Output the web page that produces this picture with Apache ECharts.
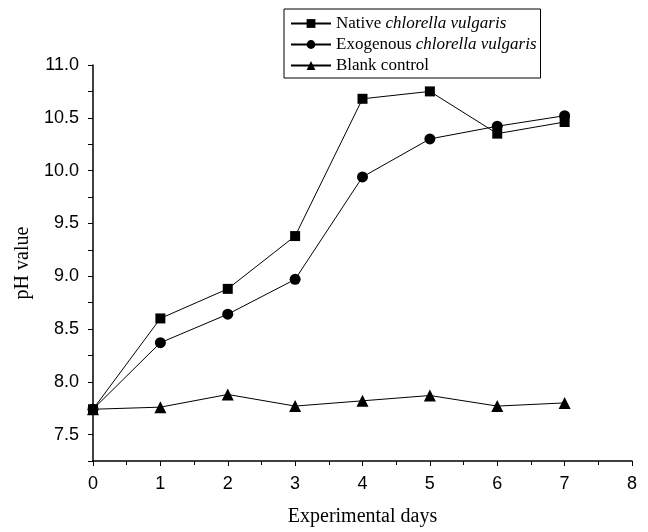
<!DOCTYPE html>
<html>
<head>
<meta charset="utf-8">
<script src="https://cdn.jsdelivr.net/npm/echarts@6/dist/echarts.min.js"></script>
<style>
  html, body { margin: 0; padding: 0; background: #fff; }
  #main { width: 648px; height: 532px; }
</style>
</head>
<body>
<div id="main"></div>
<script>
// pH value over experimental days
var days = [0, 1, 2, 3, 4, 5, 6, 7];
var nativeVals = [7.74, 8.60, 8.88, 9.38, 10.68, 10.75, 10.35, 10.46];
var exogenousVals = [7.74, 8.37, 8.64, 8.97, 9.94, 10.30, 10.42, 10.52];
var blankVals = [7.74, 7.76, 7.88, 7.77, 7.82, 7.87, 7.77, 7.80];

function pairs(xs, ys) {
    return xs.map(function (x, i) { return [x, ys[i]]; });
}

var myChart = echarts.init(document.getElementById('main'));

var serif = '"Liberation Serif", "Times New Roman", serif';
var sans = '"Liberation Sans", Arial, sans-serif';

var lineSeries = function (name, data, symbol, size) {
    return {
        name: name,
        type: 'line',
        data: data,
        symbol: symbol,
        symbolSize: size,
        lineStyle: { color: '#000', width: 1 },
        itemStyle: { color: '#000' }
    };
};

var option = {
    animation: false,
    grid: { left: 93, right: 16, top: 65, bottom: 71 },
    legend: {
        orient: 'vertical',
        left: 284,
        top: 9,
        padding: [6, 4, 4, 6],
        itemGap: 4,
        itemWidth: 40,
        itemHeight: 11,
        borderColor: '#000',
        borderWidth: 1,
        data: ['Native', 'Exogenous', 'Blank control'],
        textStyle: {
            fontFamily: serif,
            fontSize: 17,
            color: '#000',
            rich: {
                n: { fontFamily: serif, fontSize: 17, color: '#000' },
                i: { fontFamily: serif, fontSize: 17, color: '#000', fontStyle: 'italic' }
            }
        },
        formatter: function (name) {
            if (name === 'Native') return '{n|Native }{i|chlorella vulgaris}';
            if (name === 'Exogenous') return '{n|Exogenous }{i|chlorella vulgaris}';
            return '{n|' + name + '}';
        }
    },
    xAxis: {
        type: 'value',
        min: 0,
        max: 8,
        interval: 1,
        name: 'Experimental days',
        nameLocation: 'middle',
        nameGap: 46,
        nameTextStyle: { fontFamily: serif, fontSize: 20, color: '#000' },
        axisLine: { lineStyle: { color: '#000', width: 1.5 } },
        axisTick: { length: 5, lineStyle: { color: '#000' } },
        minorTick: { show: true, splitNumber: 2, length: 4, lineStyle: { color: '#000' } },
        axisLabel: { fontFamily: sans, fontSize: 18, color: '#000', margin: 14 },
        splitLine: { show: false }
    },
    yAxis: {
        type: 'value',
        min: 7.25,
        max: 11.0,
        interval: 0.25,
        name: 'pH value',
        nameLocation: 'middle',
        nameGap: 50,
        nameTextStyle: { fontFamily: serif, fontSize: 20, color: '#000' },
        axisLine: { show: true, lineStyle: { color: '#000', width: 1.5 } },
        axisTick: { show: true, length: 5, lineStyle: { color: '#000' } },
        axisLabel: {
            fontFamily: sans, fontSize: 18, color: '#000', margin: 14,
            formatter: function (v) {
                var d = v * 2;
                return Math.abs(d - Math.round(d)) < 1e-6 ? v.toFixed(1) : '';
            }
        },
        splitLine: { show: false }
    },
    series: [
        lineSeries('Native', pairs(days, nativeVals), 'rect', 10),
        lineSeries('Exogenous', pairs(days, exogenousVals), 'circle', 11),
        lineSeries('Blank control', pairs(days, blankVals), 'triangle', 12)
    ]
};

myChart.setOption(option);
</script>
</body>
</html>
